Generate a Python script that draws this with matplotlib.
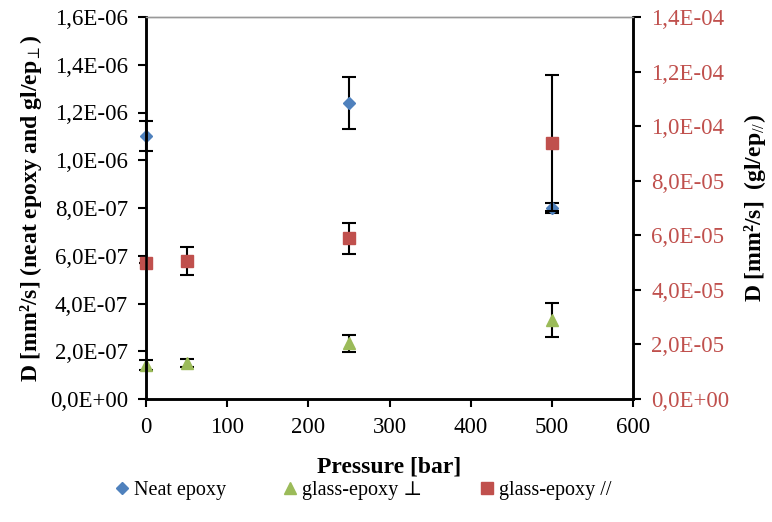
import matplotlib
matplotlib.use("Agg")
import matplotlib.pyplot as plt
from matplotlib.ticker import FuncFormatter

plt.rcParams['font.family'] = ['Liberation Serif', 'DejaVu Serif']
plt.rcParams['mathtext.fontset'] = 'custom'
plt.rcParams['mathtext.rm'] = 'Liberation Serif'
plt.rcParams['mathtext.bf'] = 'Liberation Serif:bold'
plt.rcParams['mathtext.it'] = 'Liberation Serif:italic'

# data
p_neat = [0, 250, 500]
d_neat = [1.10e-6, 1.24e-6, 8.0e-7]
e_neat = [0.63e-7, 1.1e-7, 0.2e-7]

p_perp = [0, 50, 250, 500]
d_perp = [1.42e-7, 1.50e-7, 2.33e-7, 3.30e-7]
e_perp = [0.22e-7, 0.18e-7, 0.35e-7, 0.72e-7]

p_par = [0, 50, 250, 500]
d_par = [5.0e-5, 5.06e-5, 5.89e-5, 9.39e-5]
e_par = [0.0, 0.52e-5, 0.56e-5, 2.5e-5]

blue = '#4F81BD'
green = '#9BBB59'
red = '#C0504D'

def sci_comma(v, pos):
    s = "%.1E" % v
    return s.replace('.', ',')

fig = plt.figure(figsize=(7.72, 5.22), dpi=100)
ax = fig.add_axes([146/772, 1-399/522, (633-146)/772, (399-17)/522])
ax2 = ax.twinx()

eb = dict(ecolor='black', elinewidth=1.5, capsize=5, capthick=1.5)
r1 = ax.errorbar(p_neat, d_neat, yerr=e_neat, fmt='D', color=blue, ms=6,
                 label='Neat epoxy', **eb)
r2 = ax.errorbar(p_perp, d_perp, yerr=e_perp, fmt='^', color=green, ms=8,
                 label='glass-epoxy ⊥', **eb)
r3 = ax2.errorbar(p_par, d_par, yerr=e_par, fmt='s', color=red, ms=8,
                  label='glass-epoxy //', **eb)
for r in (r1, r2, r3):
    for art in r.lines[0:1] + r.lines[1] + r.lines[2]:
        if art is not None:
            art.set_clip_on(False)

ax.set_xlim(0, 600)
ax.set_ylim(0, 1.6e-6)
ax2.set_ylim(0, 1.4e-4)
ax.set_xticks(range(0, 601, 100))
ax.set_yticks([i*2e-7 for i in range(9)])
ax2.set_yticks([i*2e-5 for i in range(8)])
ax.yaxis.set_major_formatter(FuncFormatter(sci_comma))
ax2.yaxis.set_major_formatter(FuncFormatter(sci_comma))

for a in (ax, ax2):
    a.spines['top'].set_color('#999999')
    a.spines['top'].set_linewidth(1.0)
    a.spines['left'].set_linewidth(1.8)
    a.spines['right'].set_linewidth(1.8)
    a.spines['bottom'].set_linewidth(1.8)
ax.tick_params(axis='both', direction='out', length=6, width=1.5, labelsize=16.5, pad=7)
ax2.tick_params(axis='y', direction='out', length=6, width=1.5, labelsize=16.5,
                labelcolor=red, pad=7)

ax.set_xlabel('Pressure [bar]', fontsize=17, fontweight='bold', labelpad=13)
ax.set_ylabel(r'D [mm²/s] (neat epoxy and gl/ep$_{\perp}$)', fontsize=17,
              fontweight='bold', labelpad=4)
ax2.set_ylabel(r'D [mm²/s]  (gl/ep$_{//}$)', fontsize=17, fontweight='bold', labelpad=9)

h1, l1 = ax.get_legend_handles_labels()
h2, l2 = ax2.get_legend_handles_labels()
handles = [h[0] for h in h1 + h2]
leg = fig.legend(handles, l1 + l2, loc='center', bbox_to_anchor=(0.471, 1-490/522),
                 ncol=3, frameon=False, fontsize=14.5, handlelength=0.6,
                 handletextpad=0.3, columnspacing=2.9)

fig.savefig('out.png', dpi=100)
